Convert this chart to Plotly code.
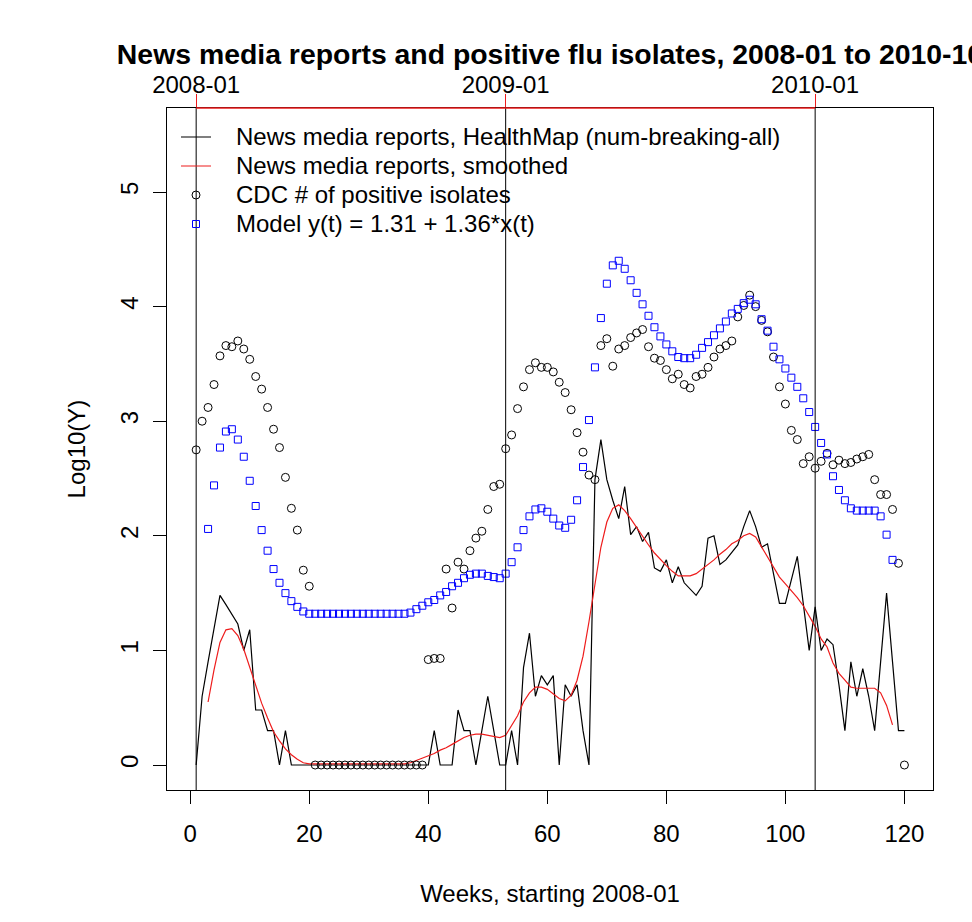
import plotly.graph_objects as go

# ---------------- data ----------------
weeks = list(range(1, 121))

news_log = [
    0.00, 0.60, 0.90, 1.20, 1.48, 1.40, 1.32, 1.23, 1.00, 1.18,
    0.48, 0.48, 0.30, 0.30, 0.00, 0.30, 0.00, 0.00, 0.00, 0.00,
    0.00, 0.00, 0.00, 0.00, 0.00, 0.00, 0.00, 0.00, 0.00, 0.00,
    0.00, 0.00, 0.00, 0.00, 0.00, 0.00, 0.00, 0.00, 0.00, 0.00,
    0.30, 0.00, 0.00, 0.00, 0.48, 0.30, 0.30, 0.00, 0.30, 0.60,
    0.30, 0.00, 0.00, 0.30, 0.00, 0.85, 1.15, 0.60, 0.78, 0.70,
    0.78, 0.00, 0.70, 0.60, 0.70, 0.30, 0.00, 2.49, 2.84, 2.49,
    2.31, 2.15, 2.43, 2.01, 2.08, 1.95, 2.03, 1.72, 1.69, 1.79,
    1.59, 1.73, 1.59, 1.53, 1.48, 1.56, 1.98, 2.00, 1.75, 1.79,
    1.85, 1.92, 2.08, 2.22, 2.08, 1.90, 1.93, 1.67, 1.41, 1.41,
    1.62, 1.82, 1.41, 1.00, 1.38, 1.00, 1.10, 1.05, 0.70, 0.30,
    0.90, 0.60, 0.84, 0.60, 0.30, 0.90, 1.50, 0.90, 0.30, 0.30,
]

smoothed_log = [
    None, None, 0.55, 0.83, 1.07, 1.18, 1.19, 1.13, 1.01, 0.86,
    0.70, 0.54, 0.41, 0.29, 0.21, 0.14, 0.09, 0.05, 0.02, 0.01,
    0.01, 0.01, 0.01, 0.01, 0.01, 0.01, 0.01, 0.01, 0.01, 0.01,
    0.01, 0.01, 0.01, 0.01, 0.01, 0.01, 0.02, 0.04, 0.06, 0.08,
    0.10, 0.13, 0.15, 0.18, 0.21, 0.24, 0.26, 0.27, 0.27, 0.26,
    0.25, 0.24, 0.26, 0.34, 0.43, 0.55, 0.63, 0.68, 0.68, 0.66,
    0.62, 0.58, 0.56, 0.61, 0.74, 0.95, 1.25, 1.59, 1.90, 2.12,
    2.24, 2.27, 2.22, 2.15, 2.07, 1.99, 1.92, 1.85, 1.79, 1.74,
    1.69, 1.65, 1.65, 1.65, 1.67, 1.71, 1.75, 1.79, 1.84, 1.88,
    1.93, 1.96, 2.00, 2.02, 1.99, 1.90, 1.82, 1.72, 1.64, 1.58,
    1.52, 1.46, 1.39, 1.30, 1.21, 1.10, 1.03, 0.89, 0.80, 0.74,
    0.68, 0.67, 0.67, 0.67, 0.67, 0.63, 0.52, 0.35, None, None,
]

cdc_log = [
    2.75, 3.00, 3.12, 3.32, 3.57, 3.66, 3.65, 3.70, 3.63, 3.54,
    3.39, 3.28, 3.12, 2.93, 2.77, 2.51, 2.24, 2.05, 1.70, 1.56,
    0.00, 0.00, 0.00, 0.00, 0.00, 0.00, 0.00, 0.00, 0.00, 0.00,
    0.00, 0.00, 0.00, 0.00, 0.00, 0.00, 0.00, 0.00, 0.00, 0.92,
    0.93, 0.93, 1.71, 1.37, 1.77, 1.71, 1.87, 1.98, 2.04, 2.23,
    2.43, 2.45, 2.76, 2.88, 3.11, 3.30, 3.45, 3.51, 3.47, 3.47,
    3.43, 3.34, 3.25, 3.10, 2.90, 2.73, 2.53, 2.49, 3.66, 3.72,
    3.48, 3.63, 3.66, 3.73, 3.77, 3.80, 3.65, 3.55, 3.53, 3.45,
    3.37, 3.41, 3.32, 3.29, 3.39, 3.41, 3.47, 3.56, 3.63, 3.66,
    3.70, 3.91, 4.01, 4.10, 4.00, 3.88, 3.78, 3.56, 3.30, 3.15,
    2.92, 2.84, 2.63, 2.69, 2.59, 2.65, 2.72, 2.62, 2.66, 2.63,
    2.64, 2.67, 2.69, 2.71, 2.49, 2.36, 2.36, 2.23, 1.76, 0.00,
]

model_log = [
    None, None, 2.06, 2.44, 2.77, 2.91, 2.93, 2.84, 2.69, 2.48,
    2.26, 2.05, 1.87, 1.71, 1.59, 1.50, 1.43, 1.38, 1.34, 1.32,
    1.32, 1.32, 1.32, 1.32, 1.32, 1.32, 1.32, 1.32, 1.32, 1.32,
    1.32, 1.32, 1.32, 1.32, 1.32, 1.32, 1.33, 1.36, 1.39, 1.42,
    1.44, 1.48, 1.51, 1.56, 1.59, 1.63, 1.66, 1.67, 1.67, 1.65,
    1.64, 1.63, 1.67, 1.77, 1.90, 2.05, 2.17, 2.23, 2.24, 2.21,
    2.15, 2.09, 2.07, 2.14, 2.31, 2.60, 3.01, 3.47, 3.90, 4.20,
    4.36, 4.40, 4.33, 4.23, 4.12, 4.02, 3.92, 3.82, 3.74, 3.67,
    3.61, 3.56, 3.55, 3.55, 3.58, 3.64, 3.69, 3.75, 3.81, 3.87,
    3.94, 3.98, 4.03, 4.06, 4.02, 3.89, 3.79, 3.65, 3.54, 3.46,
    3.38, 3.30, 3.20, 3.08, 2.95, 2.81, 2.71, 2.52, 2.40, 2.31,
    2.24, 2.22, 2.22, 2.22, 2.22, 2.17, 2.01, 1.79, None, None,
]

year_start_weeks = [1, 53, 105]
year_labels = ["2008-01", "2009-01", "2010-01"]
x_tick_vals = [0, 20, 40, 60, 80, 100, 120]
y_tick_vals = [0, 1, 2, 3, 4, 5]

names = [
    "News media reports, HealthMap (num-breaking-all)",
    "News media reports, smoothed",
    "CDC # of positive isolates",
    "Model y(t) = 1.31 + 1.36*x(t)",
]


def legend_label(text):
    return '<span style="font-size:24px">\u00a0\u00a0\u00a0' + text + "</span>"


FONT = "Liberation Sans, Arial, Helvetica, sans-serif"
RED = "#ee1c1c"

fig = go.Figure()
fig.add_trace(go.Scatter(x=weeks, y=news_log, mode="lines", name=legend_label(names[0]),
                         line=dict(color="black", width=1.2)))
fig.add_trace(go.Scatter(x=weeks, y=smoothed_log, mode="lines", name=legend_label(names[1]),
                         line=dict(color=RED, width=1.2)))
fig.add_trace(go.Scatter(x=weeks, y=cdc_log, mode="markers", name=legend_label(names[2]),
                         marker=dict(symbol="circle-open", size=8, color="black",
                                     line=dict(width=1, color="black"))))
fig.add_trace(go.Scatter(x=weeks, y=model_log, mode="markers", name=legend_label(names[3]),
                         marker=dict(symbol="square-open", size=7, color="blue",
                                     line=dict(width=1, color="blue"))))
# top axis carrier
fig.add_trace(go.Scatter(x=year_start_weeks, y=[None] * len(year_start_weeks),
                         xaxis="x2", mode="markers", showlegend=False,
                         hoverinfo="skip"))

# vertical year markers
for w in year_start_weeks:
    fig.add_shape(type="line", xref="x", yref="paper", x0=w, x1=w, y0=0, y1=1,
                  line=dict(color="black", width=1))
# red top axis line between the year ticks
fig.add_shape(type="line", xref="x", yref="paper",
              x0=year_start_weeks[0], x1=year_start_weeks[-1], y0=1, y1=1,
              line=dict(color=RED, width=1.5))

x_range = [-3.9, 124.8]
axis_common = dict(showgrid=False, zeroline=False, ticks="outside", ticklen=13,
                   tickcolor="black", tickwidth=1,
                   tickfont=dict(family=FONT, size=24, color="black"))

fig.update_layout(
    width=972, height=922,
    margin=dict(l=167, r=39, t=108, b=132),
    paper_bgcolor="white", plot_bgcolor="white",
    font=dict(family=FONT, size=24, color="black"),
    title=dict(text="<b>News media reports and positive flu isolates, 2008-01 to 2010-10</b>",
               x=0.5, xref="paper", xanchor="center",
               y=1 - 54 / 922, yref="container", yanchor="middle",
               font=dict(family=FONT, size=28.4, color="black")),
    xaxis=dict(range=x_range, tickvals=x_tick_vals, showline=True, mirror=True,
               linecolor="black", linewidth=1, ticklabelstandoff=9,
               title=dict(text="Weeks, starting 2008-01", standoff=39,
                          font=dict(family=FONT, size=24)),
               **axis_common),
    yaxis=dict(range=[-0.218, 5.733], tickvals=y_tick_vals, tickangle=-90,
               showline=True, mirror=True, linecolor="black", linewidth=1,
               ticklabelstandoff=5,
               title=dict(text="Log10(Y)", standoff=24,
                          font=dict(family=FONT, size=24)),
               **axis_common),
    xaxis2=dict(overlaying="x", side="top", range=x_range, tickvals=year_start_weeks,
                ticktext=year_labels, showline=False, showgrid=False, zeroline=False,
                ticks="outside", ticklen=13, tickcolor=RED, tickwidth=1,
                ticklabelstandoff=-9,
                tickfont=dict(family=FONT, size=24, color="black")),
    legend=dict(x=(176 - 167) / 766, y=1 - (117.5 - 108) / 682, xanchor="left",
                yanchor="top", bgcolor="rgba(0,0,0,0)", borderwidth=0,
                font=dict(family=FONT, size=20, color="black"),
                tracegroupgap=0, itemwidth=30),
    showlegend=True,
)

fig.write_html("out.html", config={"displayModeBar": False},
               post_script="document.body.style.margin='0';")
